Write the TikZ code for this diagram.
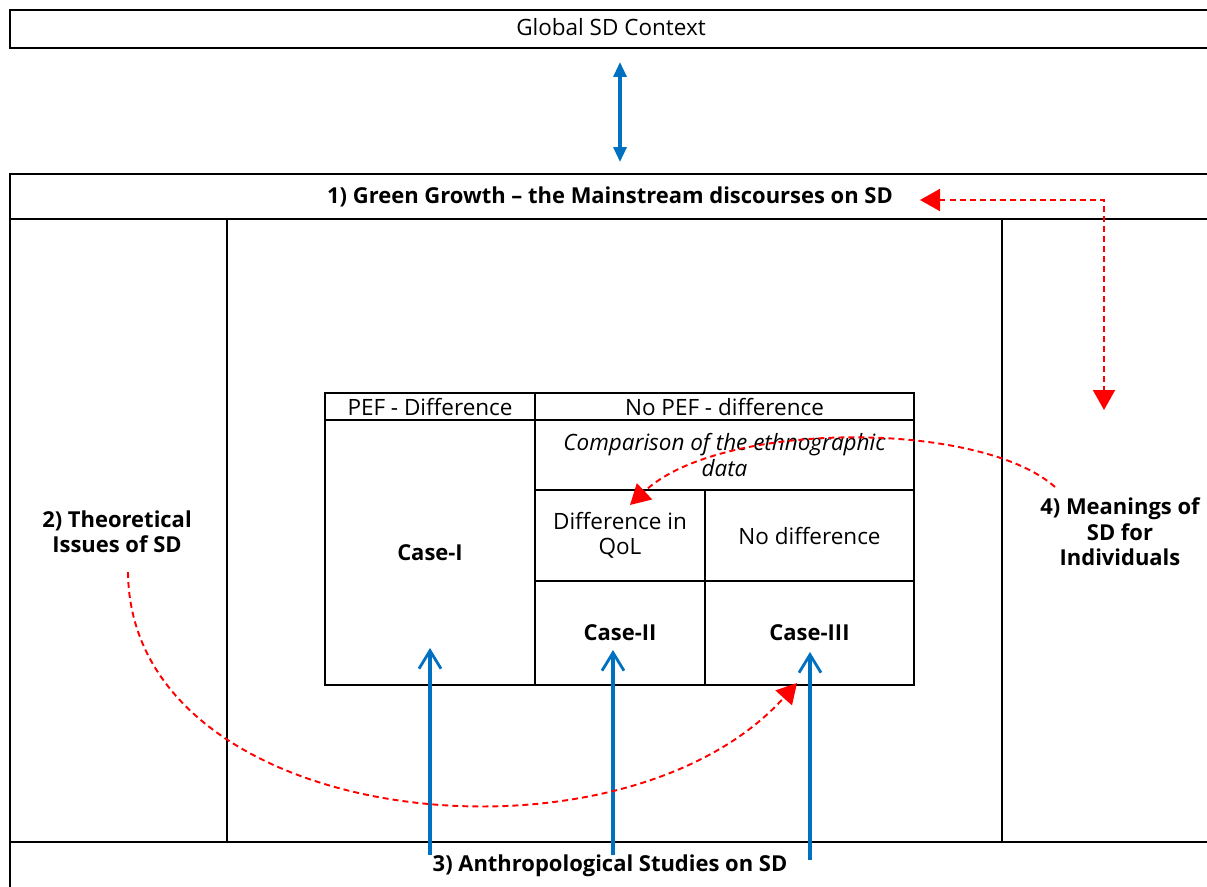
\documentclass[tikz,border=0pt]{standalone}
\usepackage{fontspec}
\setmainfont{Open Sans}
\usetikzlibrary{arrows.meta}
\definecolor{sdblue}{RGB}{0,112,192}
\definecolor{sdred}{RGB}{255,0,0}
\def\px{0.02cm}

\begin{document}
\begin{tikzpicture}[x=0.02cm, y=-0.02cm, line width=1.1pt,
    lbl/.style={font=\fontsize{12.8}{14.5}\selectfont, align=center},
    boldlbl/.style={font=\fontsize{12.5}{14.5}\selectfont\bfseries, align=center},
    cell/.style 2 args={draw, inner sep=0pt, minimum width=#1*\px, minimum height=#2*\px},
    bluelink/.style={draw=sdblue, line width=1.8pt},
    reddash/.style={draw=sdred, line width=1.1pt, dash pattern=on 3.4pt off 2.3pt},
    redtip/.tip={Triangle[length=0.4cm, width=0.44cm, sep=0pt]},
    bluetip/.tip={Triangle[length=0.3cm, width=0.26cm]},
    barb/.tip={Straight Barb[length=0.36cm, width=0.44cm, line width=1.6pt]}]
    \useasboundingbox (0,0) rectangle (1207,886);

    % frames
    \draw (1220,10) -- (10,10) -- (10,48) -- (1220,48);
    \draw (1220,174) -- (10,174) -- (10,890);
    \draw (10,219) -- (1220,219);
    \draw (10,842) -- (1220,842);
    \draw (227,219) -- (227,842);
    \draw (1002,219) -- (1002,842);

    % labels of the frames
    \node[lbl] (global) at (611,27) {Global SD Context};
    \node[boldlbl] (green) at (610,197) {1) Green Growth -- the Mainstream discourses on SD};
    \node[boldlbl] (theory) at (117,532) {2) Theoretical\\Issues of SD};
    \node[boldlbl] (anthro) at (610,866) {3) Anthropological Studies on SD};
    \node[boldlbl] (meaning) at (1120,532) {4) Meanings of\\SD for\\Individuals};

    % table of cases
    \node[cell={210}{27}, lbl] (pef) at (430,406.5) {PEF - Difference};
    \node[cell={379}{27}, lbl] (nopef) at (724.5,406.5) {No PEF - difference};
    \node[cell={210}{265}, boldlbl] (case1) at (430,552.5) {Case-I};
    \node[cell={379}{70}, lbl, font=\fontsize{12.8}{14.5}\selectfont\itshape] (comp) at (724.5,455) {Comparison of the ethnographic\\data};
    \node[cell={170}{91}, lbl] (diff) at (620,535.5) {Difference in\\QoL};
    \node[cell={209}{91}, lbl] (nodiff) at (809.5,535.5) {No difference};
    \node[cell={170}{104}, boldlbl] (case2) at (620,633) {Case-II};
    \node[cell={209}{104}, boldlbl] (case3) at (809.5,633) {Case-III};

    % global context <-> green growth
    \coordinate (gtop) at (620,62);
    \coordinate (gbot) at (620,162);
    \draw[bluelink, bluetip-bluetip] (gtop) -- (gbot);

    % anthropological studies -> cases
    \foreach \name/\xa/\ya/\yb in {a1/430/855/648, a2/613/855/650, a3/810/860/652} {
        \coordinate (\name s) at (\xa,\ya);
        \coordinate (\name e) at (\xa,\yb);
        \draw[bluelink, -barb] (\name s) -- (\name e);
    }

    % green growth <-> meanings
    \coordinate (gg) at (920,200);
    \coordinate (corner) at (1104,200);
    \coordinate (mm) at (1104,410);
    \draw[reddash, redtip-redtip] (gg) -- (corner) -- (mm);

    % theory -> case III
    \coordinate (th) at (128,572);
    \coordinate (c3) at (797,683);
    \draw[reddash, -redtip] (th) .. controls (130,830) and (620,880) .. (c3);

    % meanings -> difference in QoL
    \coordinate (mn) at (1055,487);
    \coordinate (dq) at (630,505);
    \draw[reddash, -redtip] (mn) .. controls (980,420) and (720,420) .. (dq);
\end{tikzpicture}
\end{document}
